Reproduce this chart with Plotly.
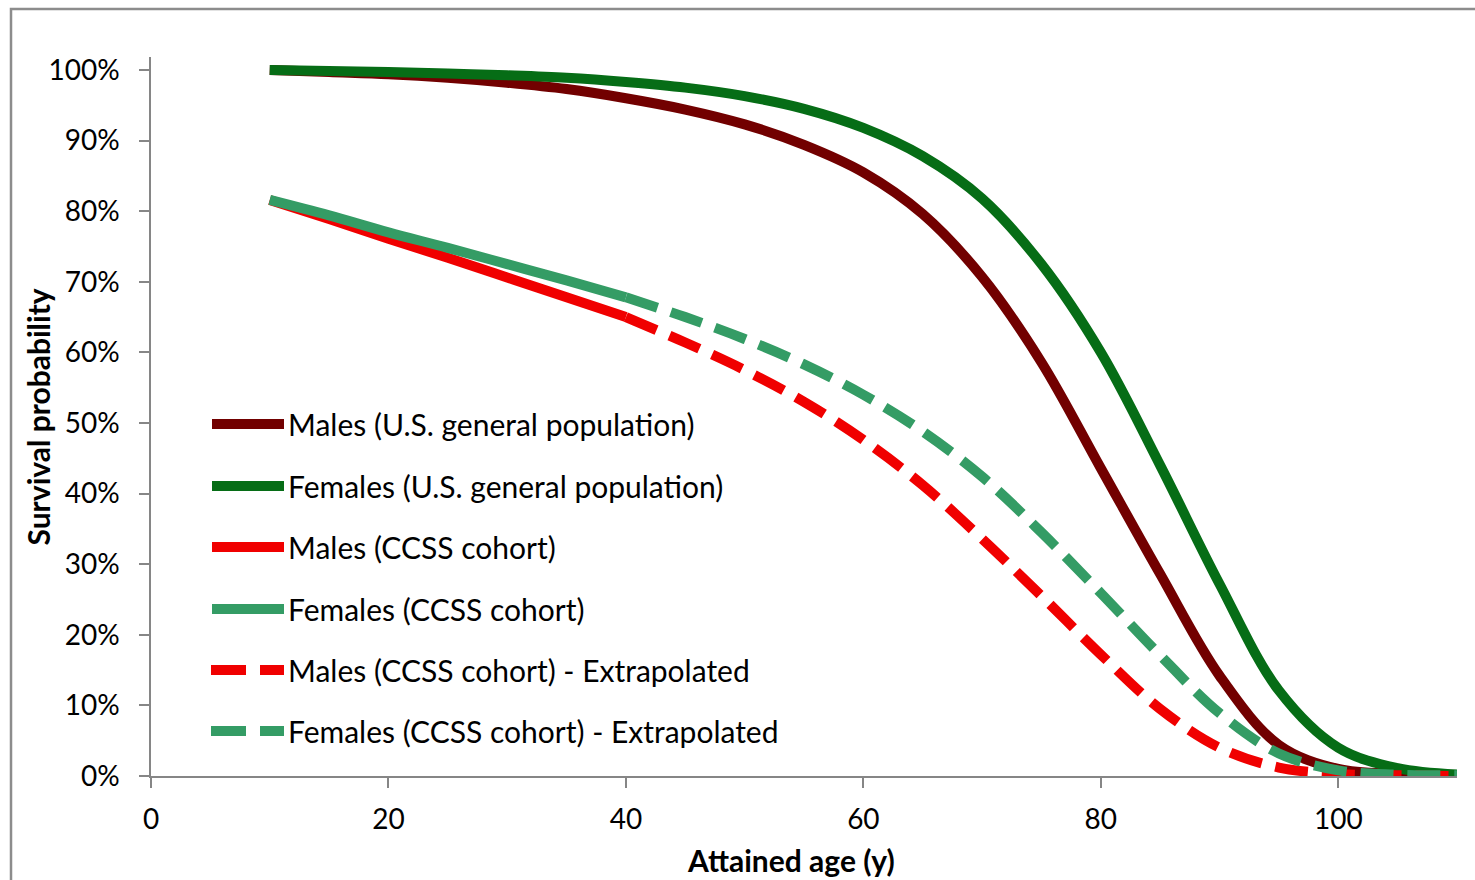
import plotly.graph_objects as go

# ---------------- data ----------------
age_gen = [10, 15, 20, 25, 30, 35, 40, 45, 50, 55, 60, 65, 70, 75, 80, 85, 90, 95, 100, 105, 110]
male_gen = [100.0, 99.7, 99.4, 98.9, 98.2, 97.3, 96.0, 94.4, 92.3, 89.4, 85.5, 79.6, 70.7, 58.6, 43.6, 28.6, 14.2, 4.4, 1.0, 0.3, 0.1]
female_gen = [100.0, 99.85, 99.7, 99.5, 99.25, 98.9, 98.3, 97.5, 96.3, 94.5, 91.8, 87.8, 81.8, 72.5, 60.0, 44.0, 27.2, 12.1, 4.0, 1.1, 0.2]

age_ccss = [10, 15, 20, 25, 30, 35, 40]
male_ccss = [81.6, 78.9, 76.1, 73.4, 70.6, 67.8, 65.0]
female_ccss = [81.6, 79.4, 77.0, 74.8, 72.5, 70.2, 67.8]

age_ext = [40, 45, 50, 55, 60, 65, 70, 75, 80, 85, 90, 95, 100, 105, 110]
male_ext = [65.0, 61.4, 57.5, 53.0, 47.6, 41.2, 33.6, 25.5, 17.2, 9.5, 4.0, 1.2, 0.3, 0.1, 0.0]
female_ext = [67.8, 65.0, 61.9, 58.3, 54.0, 48.8, 42.4, 34.5, 25.9, 17.1, 8.9, 3.2, 0.8, 0.2, 0.1]

names = ["Males (U.S. general population)", "Females (U.S. general population)",
         "Males (CCSS cohort)", "Females (CCSS cohort)",
         "Males (CCSS cohort) - Extrapolated", "Females (CCSS cohort) - Extrapolated"]
colors = ["#720000", "#066d16", "#f00000", "#349c65", "#f00000", "#349c65"]
dashes = ["solid", "solid", "solid", "solid", "33px,14px", "33px,14px"]

y_ticks = [0, 10, 20, 30, 40, 50, 60, 70, 80, 90, 100]
y_tick_text = [f"{v}%" for v in y_ticks]
x_ticks = [0, 20, 40, 60, 80, 100]

series = [(age_gen, male_gen), (age_gen, female_gen), (age_ccss, male_ccss),
          (age_ccss, female_ccss), (age_ext, male_ext), (age_ext, female_ext)]

FONT = "Lato"
LW = 10

fig = go.Figure()
for (xs, ys), nm, c, d in zip(series, names, colors, dashes):
    fig.add_trace(go.Scatter(x=xs, y=[v / 100 for v in ys], mode="lines", name=nm,
                             line=dict(color=c, width=LW, dash=d, shape="spline", smoothing=1.0),
                             showlegend=False, hoverinfo="skip"))

# ---- plot geometry (pixels) for paper coords ----
W, H = 1475, 880
L, R, T, B = 151, 18, 57, 104
pw, ph = W - L - R, H - T - B

def px_x(p):
    return (p - L) / pw

def px_y(p):
    return (H - B - p) / ph

shapes = []
annotations = []
# outer chart-area border
shapes.append(dict(type="rect", xref="paper", yref="paper",
                   x0=px_x(11), x1=px_x(1490), y0=px_y(900), y1=px_y(9),
                   line=dict(color="#8c8c8c", width=2.5), layer="below"))

# custom legend
leg_y = [424, 486, 547, 609, 670, 731]
for i, (nm, c, d) in enumerate(zip(names, colors, dashes)):
    yy = px_y(leg_y[i])
    if d == "solid":
        segs = [(212, 284)]
    else:
        segs = [(211, 246), (260, 284)]
    for a, b in segs:
        shapes.append(dict(type="line", xref="paper", yref="paper", x0=px_x(a), x1=px_x(b),
                           y0=yy, y1=yy, line=dict(color=c, width=LW)))
    annotations.append(dict(xref="paper", yref="paper", x=px_x(286), y=yy, text=nm,
                            showarrow=False, xanchor="left", yanchor="middle",
                            font=dict(family=FONT, size=30, color="#000000")))

# axis titles (placed as in the reference)
annotations.append(dict(xref="paper", yref="paper", x=px_x(37), y=0.5, text="<b>Survival probability</b>",
                        showarrow=False, xanchor="center", yanchor="middle", textangle=-90,
                        font=dict(family=FONT, size=30, color="#000000")))
annotations.append(dict(xref="paper", yref="paper", x=px_x(791), y=px_y(860), text="<b>Attained age (y)</b>",
                        showarrow=False, xanchor="center", yanchor="middle",
                        font=dict(family=FONT, size=30, color="#000000")))

fig.update_layout(
    width=W, height=H,
    margin=dict(l=L, r=R, t=T, b=B, pad=0, autoexpand=False),
    paper_bgcolor="white", plot_bgcolor="white",
    font=dict(family=FONT, size=28, color="#000000"),
    shapes=shapes, annotations=annotations,
    xaxis=dict(range=[0, 110], tickvals=x_ticks, showgrid=False, zeroline=False,
               showline=True, linecolor="#868686", linewidth=1.5, automargin=False,
               ticks="outside", ticklen=10, tickcolor="#868686", tickwidth=1.5,
               ticklabelstandoff=8,
               tickfont=dict(family=FONT, size=28, color="#000000")),
    yaxis=dict(range=[0, 1.0184], tickvals=[v / 100 for v in y_ticks], ticktext=y_tick_text,
               showgrid=False, zeroline=False, automargin=False,
               showline=True, linecolor="#868686", linewidth=1.5,
               ticks="outside", ticklen=10, tickcolor="#868686", tickwidth=1.5,
               ticklabelstandoff=14,
               tickfont=dict(family=FONT, size=28, color="#000000")),
)

fig.write_html("out.html", config={"displayModeBar": False},
               post_script="document.body.style.margin='0px';")
